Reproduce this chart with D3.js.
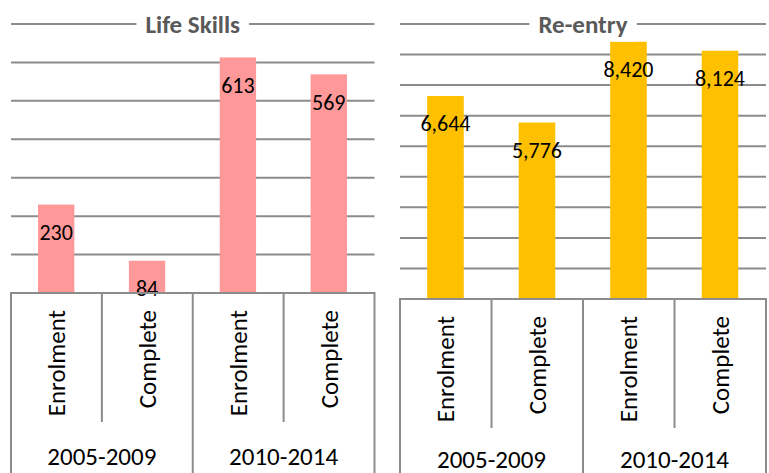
<!DOCTYPE html>
<html>
<head>
<meta charset="utf-8">
<script src="https://cdn.jsdelivr.net/npm/d3@7"></script>
<style>
  body { margin: 0; background: #fff; }
  svg { display: block; }
</style>
</head>
<body>
<div id="chart"></div>
<script>
// chart data
var categories = ["Enrolment", "Complete", "Enrolment", "Complete"];
var periods = ["2005-2009", "2010-2014"];
var lifeSkills = [230, 84, 613, 569];
var reentry = [6644, 5776, 8420, 8124];

var width = 769;
var height = 473;
var fontFamily = "Calibri, Carlito, Lato, sans-serif";
var gridColour = "#8c8c8c";

var svg = d3.select("#chart")
    .append("svg")
    .attr("width", width)
    .attr("height", height);

// one panel per programme
var panels = [
    { title: "Life Skills", values: lifeSkills, colour: "#FF9999", left: 11, right: 374.5, top: 24, base: 293, max: 700, ticks: 7, periodY: 465, fmt: d3.format("d") },
    { title: "Re-entry", values: reentry, colour: "#FFC000", left: 400, right: 766, top: 24, base: 299, max: 9000, ticks: 9, periodY: 467.5, fmt: d3.format(",") }
];

panels.forEach(function (p) {
    var g = svg.append("g");

    var x = d3.scaleBand()
        .domain(d3.range(categories.length))
        .range([p.left, p.right])
        .padding(0);
    var y = d3.scaleLinear()
        .domain([0, p.max])
        .range([p.base, p.top]);

    // gridlines (0 is drawn by the axis box)
    g.selectAll(".grid")
        .data(y.ticks(p.ticks).filter(function (d) { return d > 0; }))
        .enter()
        .append("line")
        .attr("x1", p.left)
        .attr("x2", p.right)
        .attr("y1", function (d) { return y(d); })
        .attr("y2", function (d) { return y(d); })
        .style("stroke", gridColour)
        .style("stroke-width", 2);

    // bars
    var bw = x.bandwidth();
    g.selectAll(".bar")
        .data(p.values)
        .enter()
        .append("rect")
        .attr("x", function (d, i) { return x(i) + bw * 0.297; })
        .attr("width", bw * 0.4)
        .attr("y", function (d) { return y(d); })
        .attr("height", function (d) { return y(0) - y(d); })
        .style("fill", p.colour);

    // value labels, inside end
    g.selectAll(".val")
        .data(p.values)
        .enter()
        .append("text")
        .attr("x", function (d, i) { return x(i) + bw * 0.497; })
        .attr("y", function (d) { return y(d) + 28; })
        .attr("text-anchor", "middle")
        .attr("dominant-baseline", "central")
        .style("font-family", fontFamily)
        .style("font-size", "22px")
        .style("fill", "#000")
        .text(function (d) { return p.fmt(d); });

    // axis box
    var boxBottom = height + 5;
    var inner = p.base + 129;
    g.append("line")
        .attr("x1", p.left).attr("x2", p.right)
        .attr("y1", p.base).attr("y2", p.base)
        .style("stroke", gridColour).style("stroke-width", 2);
    [0, 2, 4].forEach(function (i) {
        var xx = i < 4 ? x(i) : p.right;
        g.append("line")
            .attr("x1", xx).attr("x2", xx)
            .attr("y1", p.base - 1).attr("y2", boxBottom)
            .style("stroke", gridColour).style("stroke-width", 2);
    });
    [1, 3].forEach(function (i) {
        g.append("line")
            .attr("x1", x(i)).attr("x2", x(i))
            .attr("y1", p.base).attr("y2", inner)
            .style("stroke", gridColour).style("stroke-width", 2);
    });

    // category labels, rotated
    g.selectAll(".cat")
        .data(categories)
        .enter()
        .append("text")
        .attr("transform", function (d, i) {
            return "translate(" + (x(i) + bw / 2) + "," + (p.base + 17) + ") rotate(-90)";
        })
        .attr("text-anchor", "end")
        .attr("dominant-baseline", "central")
        .style("font-family", fontFamily)
        .style("font-size", "25px")
        .style("fill", "#000")
        .text(function (d) { return d; });

    // period labels
    g.selectAll(".period")
        .data(periods)
        .enter()
        .append("text")
        .attr("x", function (d, i) { return x(i * 2) + bw; })
        .attr("y", p.periodY)
        .attr("text-anchor", "middle")
        .style("font-family", fontFamily)
        .style("font-size", "25px")
        .style("fill", "#000")
        .text(function (d) { return d; });

    // title over the top gridline
    var cx = (p.left + p.right) / 2;
    var bg = g.append("rect").style("fill", "#fff");
    var t = g.append("text")
        .attr("x", cx)
        .attr("y", p.top)
        .attr("text-anchor", "middle")
        .attr("dominant-baseline", "central")
        .style("font-family", fontFamily)
        .style("font-size", "25px")
        .style("font-weight", "bold")
        .style("fill", "#595959")
        .text(p.title);
    var bb = t.node().getBBox();
    bg.attr("x", bb.x - 9).attr("y", bb.y - 2)
        .attr("width", bb.width + 18).attr("height", bb.height + 4);
});
</script>
</body>
</html>
